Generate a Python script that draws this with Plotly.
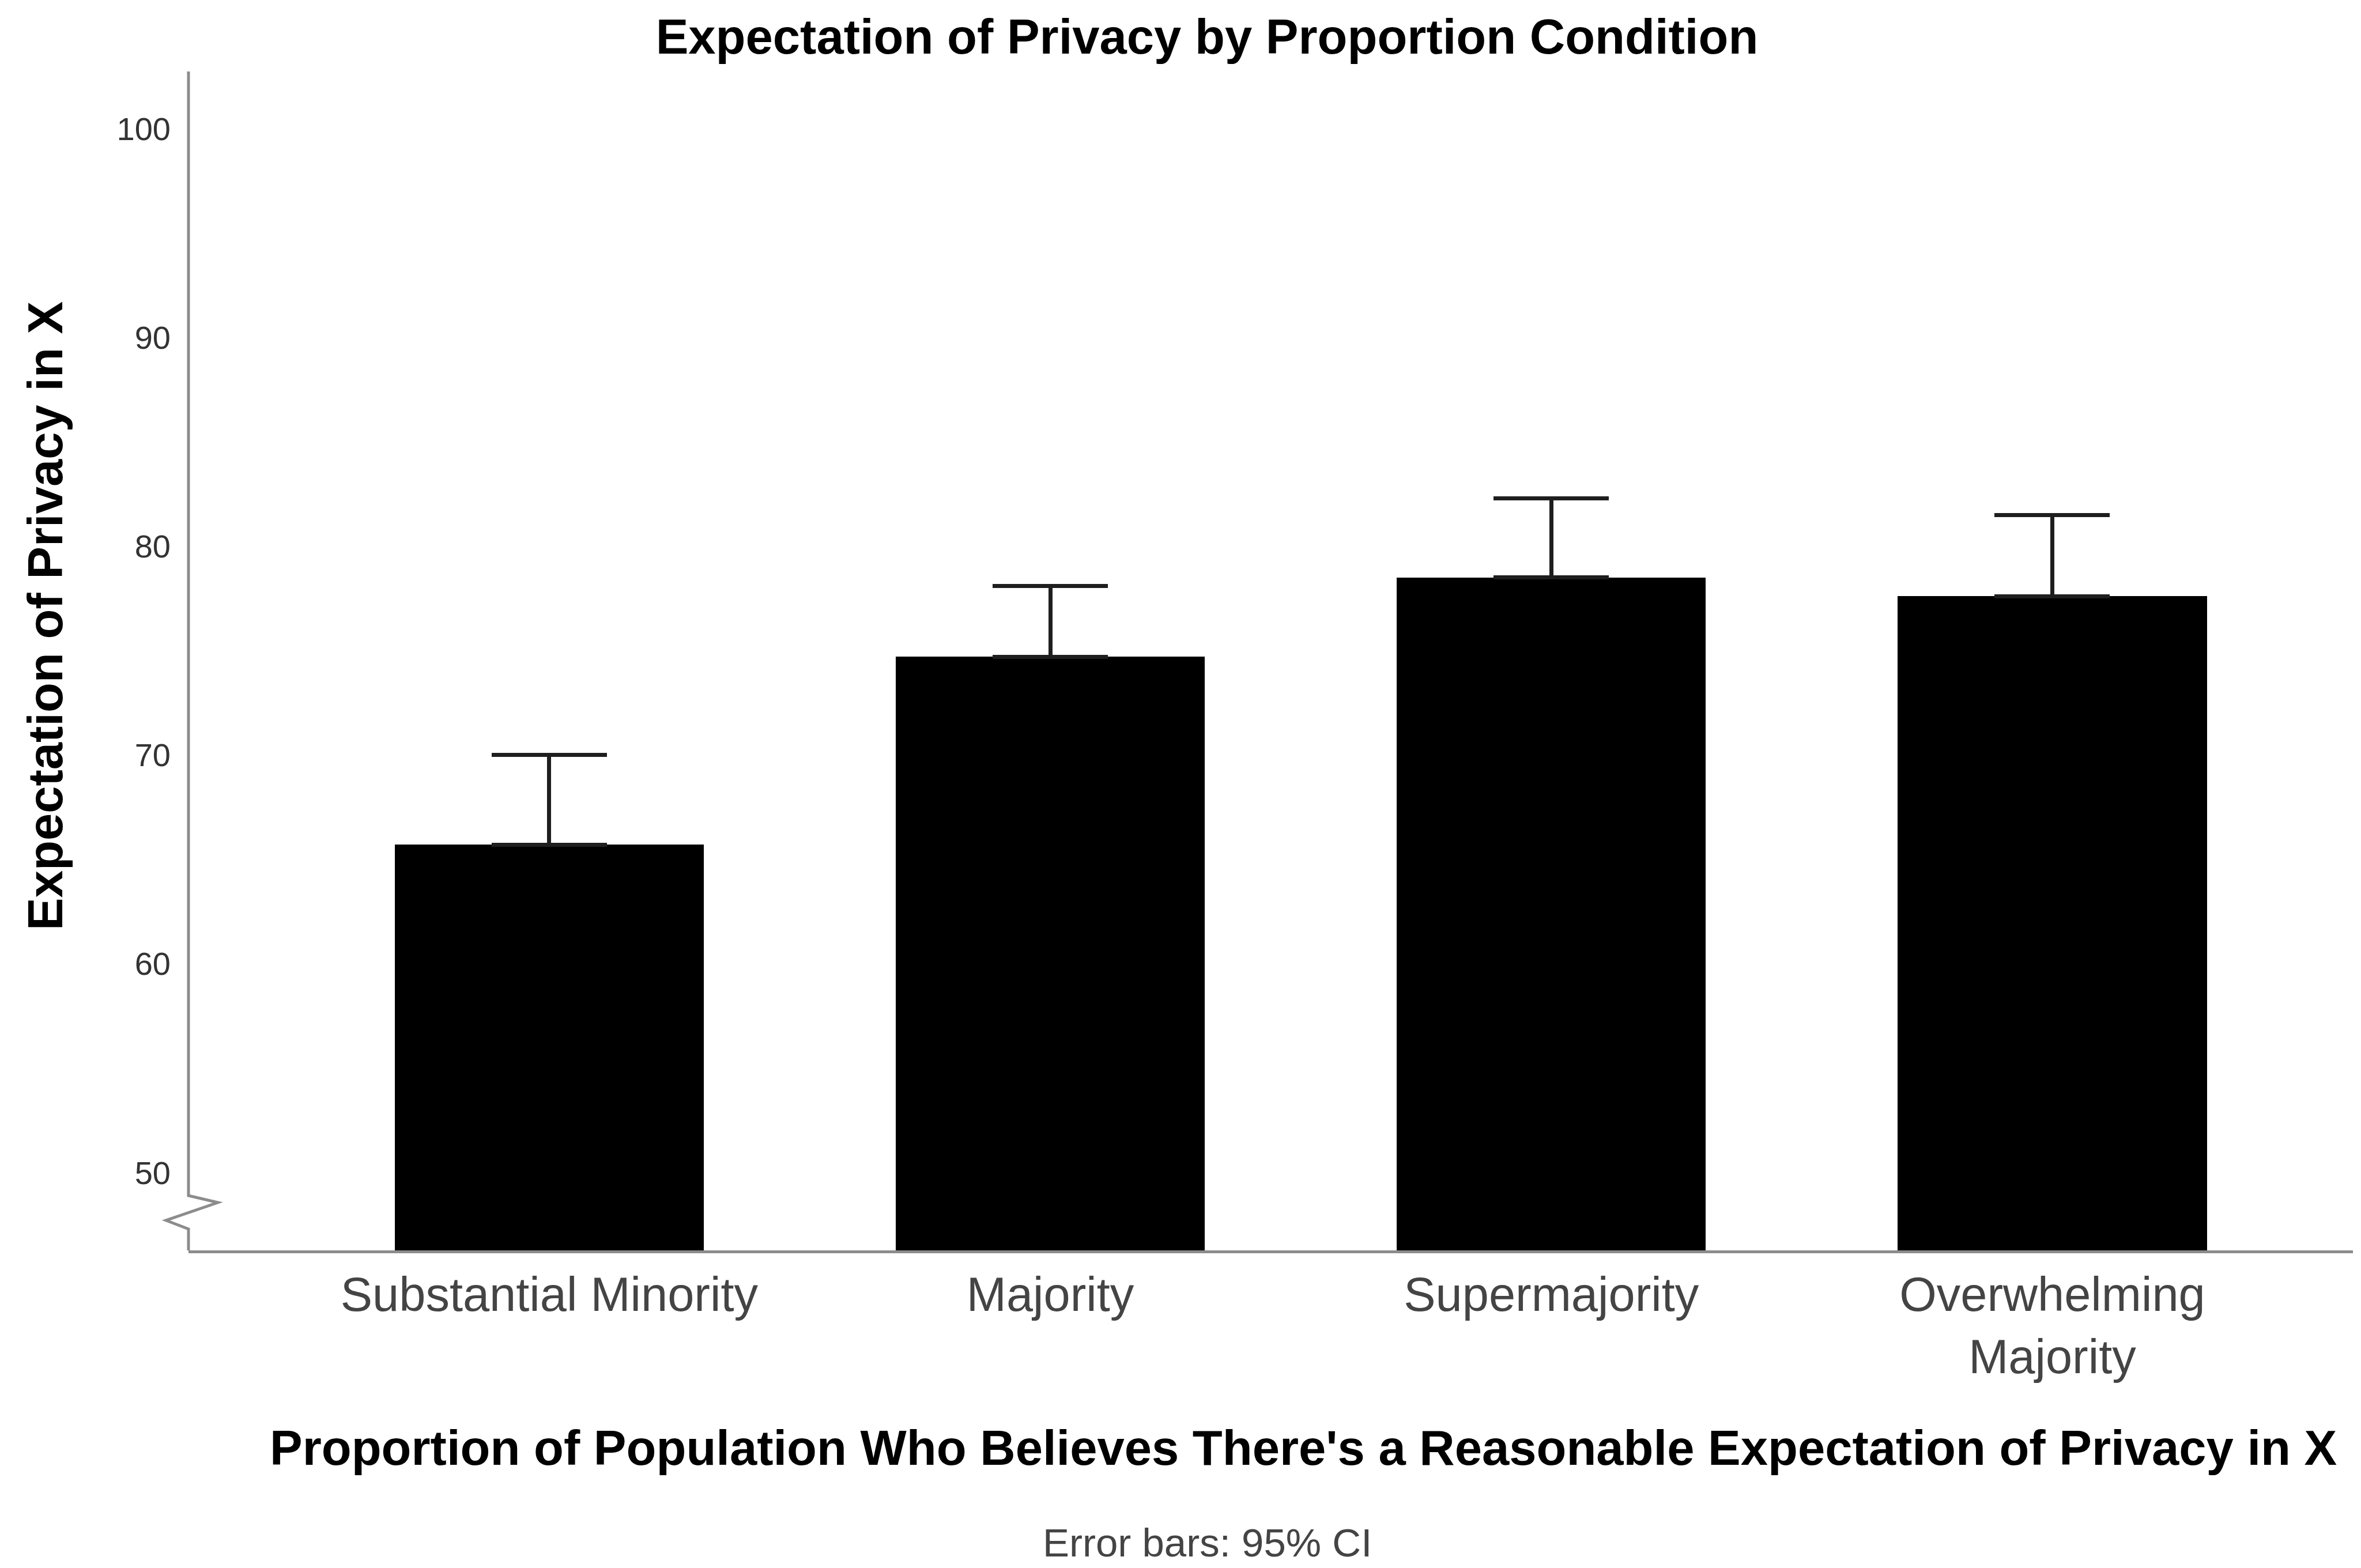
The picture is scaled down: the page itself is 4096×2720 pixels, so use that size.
import plotly.graph_objects as go

# ---- data ----
categories = ["Substantial Minority", "Majority", "Supermajority", "Overwhelming<br>Majority"]
means = [65.7, 74.7, 78.5, 77.6]
ci_upper = [70.0, 78.1, 82.3, 81.5]
y_ticks = [50, 60, 70, 80, 90, 100]

title_text = "Expectation of Privacy by Proportion Condition"
y_title = "Expectation of Privacy in X"
x_title = "Proportion of Population Who Believes There's a Reasonable Expectation of Privacy in X"
footnote = "Error bars: 95% CI"

FONT = "Liberation Sans, Arial, sans-serif"
AXIS_COLOR = "#8c8c8c"

W, H = 4096, 2720
L, R, T, B = 327, 14, 124, 551

err_plus = [u - m for u, m in zip(ci_upper, means)]

fig = go.Figure()
fig.add_trace(go.Bar(
    x=list(range(len(categories))),
    y=means,
    width=0.617,
    marker=dict(color="black", line=dict(width=0)),
    error_y=dict(type="data", symmetric=False, array=err_plus,
                 arrayminus=[0] * len(means),
                 color="#1e1e1e", thickness=7, width=100),
    showlegend=False,
))

plot_h = H - T - B

fig.update_layout(
    width=W, height=H,
    margin=dict(l=L, r=R, t=T, b=B, pad=0),
    paper_bgcolor="white", plot_bgcolor="white",
    font=dict(family=FONT, color="#333333"),
    bargap=0,
    title=dict(text="<b>" + title_text + "</b>", x=2094 / W, xanchor="center",
               xref="container", y=1 - 63 / H, yanchor="middle", yref="container",
               font=dict(size=85, color="black", family=FONT)),
    xaxis=dict(
        range=[-0.72, 3.60],
        tickmode="array", tickvals=list(range(len(categories))), ticktext=categories,
        showline=True, linecolor=AXIS_COLOR, linewidth=5,
        showgrid=False, zeroline=False, ticks="",
        tickfont=dict(size=83, color="#444444", family=FONT),
        ticklabelstandoff=0,
    ),
    yaxis=dict(
        range=[46.27, 102.74],
        tickmode="array", tickvals=y_ticks,
        showline=False, showgrid=False, zeroline=False, ticks="",
        tickfont=dict(size=56, color="#333333", family=FONT),
        ticklabelstandoff=30,
    ),
    annotations=[
        dict(text="<b>" + y_title + "</b>", xref="paper", yref="paper",
             x=(78 - L) / (W - L - R), y=(H - B - 1069) / plot_h,
             xanchor="center", yanchor="middle", textangle=-90, showarrow=False,
             font=dict(size=85, color="black", family=FONT)),
        dict(text="<b>" + x_title + "</b>", xref="paper", yref="paper",
             x=(2261 - L) / (W - L - R), y=-(2511 - (H - B)) / plot_h,
             xanchor="center", yanchor="middle", showarrow=False,
             font=dict(size=85, color="black", family=FONT)),
        dict(text=footnote, xref="paper", yref="paper",
             x=(2094 - L) / (W - L - R), y=-(2676 - (H - B)) / plot_h,
             xanchor="center", yanchor="middle", showarrow=False,
             font=dict(size=69, color="#444444", family=FONT)),
    ],
    shapes=[
        # y axis line with axis-break zigzag (pixel offsets from bottom-left corner)
        dict(type="path", xref="x domain", yref="y domain",
             xsizemode="pixel", ysizemode="pixel", xanchor=0, yanchor=0,
             path=f"M 0,{plot_h} L 0,95 L 51,83 L -39,52 L 0,37 L 0,0",
             line=dict(color=AXIS_COLOR, width=5), fillcolor="rgba(0,0,0,0)",
             layer="above"),
    ],
)

fig.write_html("out.html")
